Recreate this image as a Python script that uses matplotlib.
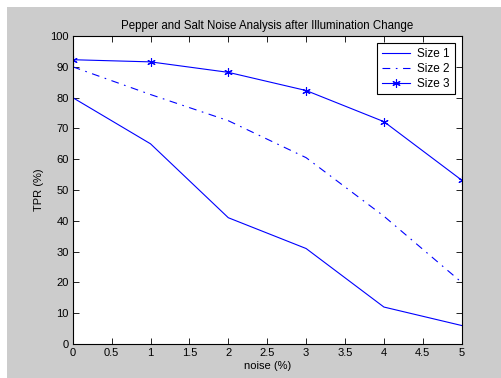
import matplotlib
matplotlib.use("Agg")
import matplotlib.pyplot as plt
from matplotlib.patches import Rectangle

noise = [0, 1, 2, 3, 4, 5]
size1 = [80, 65, 41, 31, 12, 6]
size2 = [90, 81, 72.5, 60.5, 41.5, 20]
size3 = [92.3, 91.6, 88.2, 82.3, 72.2, 53.2]
xticks = [0, 0.5, 1, 1.5, 2, 2.5, 3, 3.5, 4, 4.5, 5]
yticks = list(range(0, 101, 10))

plt.rcParams['font.family'] = ['Liberation Sans', 'DejaVu Sans']
plt.rcParams['font.size'] = 8

fig = plt.figure(figsize=(5.02, 3.78), dpi=100, facecolor='white')
# grey MATLAB-style figure panel, with a thin white margin at top and left
fig.patches.append(Rectangle((7 / 502, 0), 1 - 7 / 502, 1 - 7 / 378,
                             transform=fig.transFigure, facecolor='#cccccc',
                             edgecolor='none', zorder=-10))

ax = fig.add_axes([72.7 / 502, 34 / 378, 389 / 502, 308 / 378])
ax.set_facecolor('white')

blue = '#0000ff'
ax.plot(noise, size1, color=blue, lw=0.8, label='Size 1')
ax.plot(noise, size2, color=blue, lw=0.8, ls='-.', dashes=(7, 5, 1.5, 5),
        label='Size 2')
ax.plot(noise, size3, color=blue, lw=0.8, marker=(6, 2, 0), ms=6, mew=0.8,
        label='Size 3')

ax.set_xlim(0, 5)
ax.set_ylim(0, 100)
ax.set_xticks(xticks)
ax.set_xticklabels([f'{v:g}' for v in xticks])
ax.set_yticks(yticks)
ax.tick_params(direction='in', top=True, right=True, length=4, width=0.6,
               labelsize=8, pad=3)
for s in ax.spines.values():
    s.set_linewidth(0.8)

ax.set_title('Pepper and Salt Noise Analysis after Illumination Change',
             fontsize=8.3, pad=5)
ax.set_xlabel('noise (%)', fontsize=8, labelpad=2)
ax.set_ylabel('TPR (%)', fontsize=8, labelpad=4)

leg = ax.legend(loc='upper right', fontsize=8.5, fancybox=False, framealpha=1,
                edgecolor='black', borderaxespad=0.6, handlelength=2.4,
                handletextpad=0.6, labelspacing=0.25, borderpad=0.4)
leg.get_frame().set_linewidth(0.8)

fig.savefig('out.png', dpi=100, facecolor=fig.get_facecolor())
